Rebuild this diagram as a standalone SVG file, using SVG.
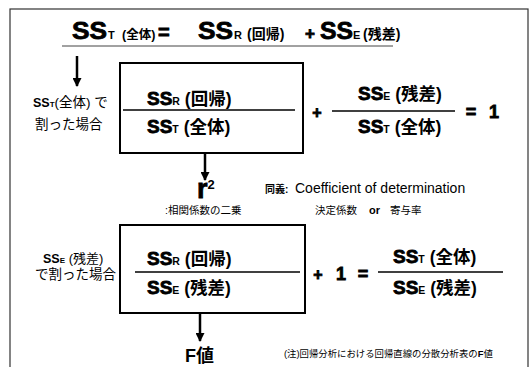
<svg xmlns="http://www.w3.org/2000/svg" width="532" height="367" viewBox="0 0 532 367">
<style>
.ss{font-family:"Liberation Sans",Arial,sans-serif;font-weight:bold;stroke:#000;stroke-width:0.8;fill:#000}
.b{font-family:"Liberation Sans",Arial,sans-serif;font-weight:bold;fill:#000}
.r{font-family:"Liberation Sans",Arial,sans-serif;fill:#000}
.jp{font-family:"Liberation Sans","Noto Sans CJK JP",sans-serif;font-weight:bold;fill:#000}
.jn{font-family:"Liberation Sans","Noto Sans CJK JP",sans-serif;font-weight:normal;fill:#000}
.box{fill:none;stroke:#000;stroke-width:2}
.ln{stroke:#000;stroke-width:1.5}
.arr{stroke:#000;stroke-width:2.5;marker-end:url(#ah)}
</style>
<defs>
<marker id="ah" viewBox="0 0 10 10" refX="9" refY="5" markerWidth="4" markerHeight="3.6" orient="auto" markerUnits="strokeWidth">
<path d="M0,0 L10,5 L0,10 z" fill="#000"/>
</marker>
</defs>
<rect x="10" y="9" width="518" height="380" fill="#fff" stroke="#333" stroke-width="1.2"/>

<g id="title">
<text x="72" y="39" class="ss" font-size="23" textLength="35" lengthAdjust="spacingAndGlyphs">SS</text>
<text x="108" y="39" class="b" font-size="11">T</text>
<text x="122" y="39" class="jp" font-size="12.5">(全体)</text>
<text x="158" y="39" class="ss" font-size="20">=</text>
<text x="198" y="39" class="ss" font-size="23" textLength="35" lengthAdjust="spacingAndGlyphs">SS</text>
<text x="234" y="39" class="b" font-size="11">R</text>
<text x="247" y="39" class="jp" font-size="14">(回帰)</text>
<text x="305" y="39" class="ss" font-size="17">+</text>
<text x="320" y="39" class="ss" font-size="23" textLength="33" lengthAdjust="spacingAndGlyphs">SS</text>
<text x="353" y="39" class="b" font-size="11">E</text>
<text x="363" y="39" class="jp" font-size="14">(残差)</text>
<line x1="62" y1="46" x2="393" y2="46" stroke="#444" stroke-width="1"/>
</g>

<g id="label1">
<text x="33" y="107"><tspan class="b" font-size="12.5">SS</tspan><tspan class="b" font-size="8">T</tspan><tspan class="jn" font-size="13.5">(全体) で</tspan></text>
<text x="35" y="129" class="jn" font-size="13.5">割った場合</text>
</g>

<g id="box1">
<rect class="box" x="120" y="63" width="183" height="90"/>
<line class="ln" x1="123" y1="110" x2="295" y2="110"/>
<text x="147" y="105"><tspan class="ss" font-size="19">SS</tspan><tspan class="b" font-size="10.5">R</tspan><tspan class="jp" font-size="17.5"> (回帰)</tspan></text>
<text x="147" y="133"><tspan class="ss" font-size="19">SS</tspan><tspan class="b" font-size="10.5">T</tspan><tspan class="jp" font-size="17.5"> (全体)</tspan></text>
</g>

<g id="eq1">
<text x="317" y="118" class="ss" font-size="16" text-anchor="middle">+</text>
<text x="358" y="100"><tspan class="ss" font-size="19">SS</tspan><tspan class="b" font-size="10.5">E</tspan><tspan class="jp" font-size="17.5"> (残差)</tspan></text>
<line class="ln" x1="332" y1="111" x2="455" y2="111"/>
<text x="358" y="133"><tspan class="ss" font-size="19">SS</tspan><tspan class="b" font-size="10.5">T</tspan><tspan class="jp" font-size="17.5"> (全体)</tspan></text>
<text x="471" y="118" class="ss" font-size="18" text-anchor="middle">=</text>
<text x="494" y="118" class="ss" font-size="18" text-anchor="middle">1</text>
</g>

<g id="r2">
<text x="197" y="198"><tspan class="ss" font-size="27">r</tspan><tspan class="b" font-size="13" dy="-9">2</tspan></text>
<text x="165" y="214" class="jn" font-size="10.5">:相関係数の二乗</text>
</g>

<g id="synonym">
<text x="265" y="193"><tspan class="jp" font-size="10">同義:</tspan><tspan class="r" font-size="14" x="295">Coefficient of determination</tspan></text>
<text x="315" y="214"><tspan class="jn" font-size="10.5">決定係数</tspan><tspan class="b" font-size="11" x="369">or</tspan><tspan class="jn" font-size="10.5" x="390">寄与率</tspan></text>
</g>

<g id="label2">
<text x="43" y="263"><tspan class="b" font-size="12.5">SS</tspan><tspan class="b" font-size="8">E</tspan><tspan class="jn" font-size="13"> (残差)</tspan></text>
<text x="35" y="279" class="jn" font-size="13.5">で割った場合</text>
</g>

<g id="box2">
<rect class="box" x="120" y="225" width="185" height="88"/>
<line class="ln" x1="135" y1="272" x2="300" y2="272"/>
<text x="147" y="265"><tspan class="ss" font-size="19">SS</tspan><tspan class="b" font-size="10.5">R</tspan><tspan class="jp" font-size="17.5"> (回帰)</tspan></text>
<text x="147" y="294"><tspan class="ss" font-size="19">SS</tspan><tspan class="b" font-size="10.5">E</tspan><tspan class="jp" font-size="17.5"> (残差)</tspan></text>
</g>

<g id="eq2">
<text x="318" y="280" class="ss" font-size="16" text-anchor="middle">+</text>
<text x="341" y="280" class="ss" font-size="18" text-anchor="middle">1</text>
<text x="363" y="280" class="ss" font-size="18" text-anchor="middle">=</text>
<text x="393" y="263"><tspan class="ss" font-size="19">SS</tspan><tspan class="b" font-size="10.5">T</tspan><tspan class="jp" font-size="17.5"> (全体)</tspan></text>
<line class="ln" x1="378" y1="272" x2="503" y2="272"/>
<text x="393" y="294"><tspan class="ss" font-size="19">SS</tspan><tspan class="b" font-size="10.5">E</tspan><tspan class="jp" font-size="17.5"> (残差)</tspan></text>
</g>

<g id="fval">
<text x="185" y="362" class="jn" font-size="18" style="font-weight:bold">F値</text>
<text x="284" y="357" class="jn" font-size="9.4">(注)回帰分析における回帰直線の分散分析表の<tspan class="b">F</tspan>値</text>
</g>

<g id="connectors">
<line class="arr" x1="77" y1="56" x2="77" y2="86"/>
<line class="arr" x1="205" y1="153" x2="205" y2="180"/>
<line class="arr" x1="200" y1="313" x2="200" y2="341"/>
</g>
</svg>
